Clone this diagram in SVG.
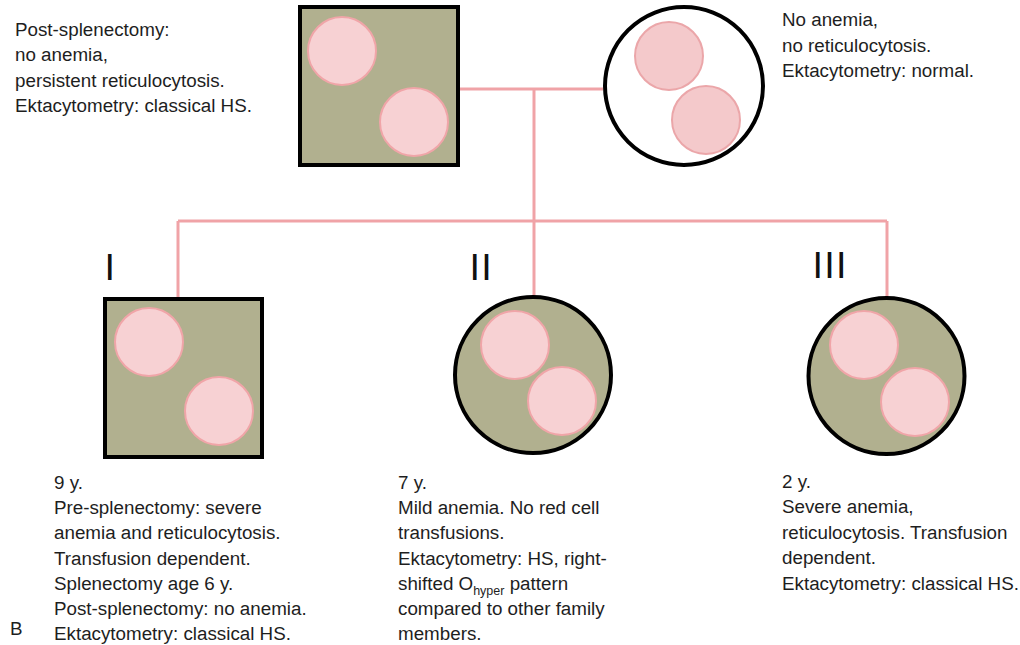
<svg xmlns="http://www.w3.org/2000/svg" width="1020" height="645" viewBox="0 0 1020 645">
<style>
.t{font-family:"Liberation Sans",Arial,sans-serif;font-size:18.8px;fill:#1e1e1e}
.rn{font-family:"Liberation Sans",Arial,sans-serif;font-size:37.7px;fill:#111;letter-spacing:1.3px}
.sym{fill:#b1b08f;stroke:#000;stroke-width:4}
.open{fill:#fff;stroke:#000;stroke-width:4}
.rbc{fill:#f7d1d3;stroke:#f0a5a8;stroke-width:2}
.rbc2{fill:#f4c9cb;stroke:#eba6a9;stroke-width:2}
.con{fill:none;stroke:#f0a3a7;stroke-width:3}
</style>
<rect width="1020" height="645" fill="#fff"/>
<g id="connectors">
<path class="con" d="M460 89 H603"/>
<path class="con" d="M534 89 V296"/>
<path class="con" d="M178 221 H887"/>
<path class="con" d="M178 221 V297"/>
<path class="con" d="M887 221 V296"/>
</g>
<g id="father">
<rect class="sym" x="300" y="7" width="158" height="158"/>
<circle class="rbc" cx="342" cy="51" r="34"/>
<circle class="rbc" cx="414" cy="122" r="34"/>
<text class="t"><tspan x="15" y="36">Post-splenectomy:</tspan><tspan x="15" y="61.3">no anemia,</tspan><tspan x="15" y="86.6">persistent reticulocytosis.</tspan><tspan x="15" y="112">Ektacytometry: classical HS.</tspan></text>
</g>
<g id="mother">
<circle class="open" cx="684" cy="86" r="79"/>
<circle class="rbc2" cx="669" cy="56" r="34"/>
<circle class="rbc2" cx="706" cy="120" r="34"/>
<text class="t"><tspan x="782" y="26">No anemia,</tspan><tspan x="782" y="51.5">no reticulocytosis.</tspan><tspan x="782" y="77">Ektacytometry: normal.</tspan></text>
</g>
<g id="child1">
<text class="rn" x="104.5" y="280">I</text>
<rect class="sym" x="105" y="299" width="157" height="158"/>
<circle class="rbc" cx="149" cy="342" r="34"/>
<circle class="rbc" cx="219" cy="411" r="34"/>
<text class="t"><tspan x="54" y="489">9 y.</tspan><tspan x="54" y="514.2">Pre-splenectomy: severe</tspan><tspan x="54" y="539.4">anemia and reticulocytosis.</tspan><tspan x="54" y="564.6">Transfusion dependent.</tspan><tspan x="54" y="589.8">Splenectomy age 6 y.</tspan><tspan x="54" y="615">Post-splenectomy: no anemia.</tspan><tspan x="54" y="640.2">Ektacytometry: classical HS.</tspan></text>
</g>
<g id="child2">
<text class="rn" x="469.5" y="280">II</text>
<circle class="sym" cx="533" cy="375" r="78"/>
<circle class="rbc" cx="515" cy="345" r="34"/>
<circle class="rbc" cx="562" cy="401" r="34"/>
<text class="t"><tspan x="398" y="489">7 y.</tspan><tspan x="398" y="514.2">Mild anemia. No red cell</tspan><tspan x="398" y="539.4">transfusions.</tspan><tspan x="398" y="564.6">Ektacytometry: HS, right-</tspan><tspan x="398" y="589.8">shifted O</tspan><tspan dy="5" font-size="12.5px">hyper</tspan><tspan dy="-5"> pattern</tspan><tspan x="398" y="615">compared to other family</tspan><tspan x="398" y="640.2">members.</tspan></text>
</g>
<g id="child3">
<text class="rn" x="812.5" y="278">III</text>
<circle class="sym" cx="886.5" cy="376" r="78"/>
<circle class="rbc" cx="864" cy="345" r="34"/>
<circle class="rbc" cx="915" cy="402" r="34"/>
<text class="t"><tspan x="782" y="488">2 y.</tspan><tspan x="782" y="513.4">Severe anemia,</tspan><tspan x="782" y="538.8">reticulocytosis. Transfusion</tspan><tspan x="782" y="564.2">dependent.</tspan><tspan x="782" y="589.6">Ektacytometry: classical HS.</tspan></text>
</g>
<text class="t" x="10" y="635">B</text>
</svg>
